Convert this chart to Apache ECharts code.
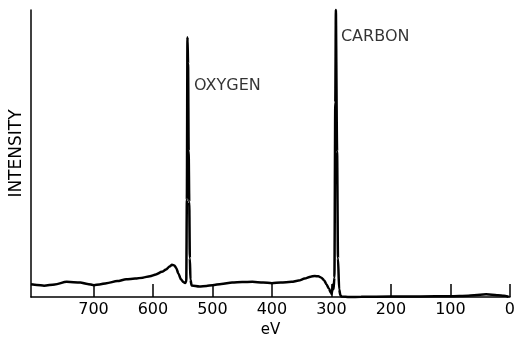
<!DOCTYPE html>
<html>
<head>
<meta charset="utf-8">
<script src="https://cdn.jsdelivr.net/npm/echarts@6/dist/echarts.min.js"></script>
<style>
html,body{margin:0;padding:0;background:#fff;}
#chart{width:518px;height:343px;}
</style>
</head>
<body>
<div id="chart"></div>
<script>
// Binding energy (eV) of sampled spectrum points
const energy = [805,795,783,765,745,722,710,699,690,678,660,645,630,617,605,595,585,578,572,568,564,561,557,553,549,546,544,543,542,541,540,539,538,537,535,
  522,510,500,485,467,450,433,415,400,385,367,355,345,335,328,322,317,312,308.6,304,301,299.5,297.5,296.5,295,293.5,292.5,291.5,290.5,289,287,285,283,
  270,250,200,150,100,70,50,40,30,20,10,5,2];
// Intensity (arbitrary units)
const intensity = [13.3,12.5,11.7,13,15.7,15,13.5,12.3,13,14.3,16.5,18.3,19,20,21.5,23.3,26,28.3,31.5,33.3,32.5,30,24,18.3,15.5,14.5,16,100,267,240,150,98,40,18,12,
  11,11.5,12.3,13.5,15,15.5,15.7,15,14.3,15,15.7,17,19,21,21.7,21.3,20,17,13.3,8.5,4.5,3.3,13,8,20,200,295,295,150,40,8,2,0.5,
  0,0.3,0.5,0.7,1,1.5,2.5,2.8,2.5,2,1.5,1,0];
// Tick values / labels on the energy axis
const tickValues = [700,600,500,400,300,200,100,0];
// Peak annotations: [eV, intensity, text]
const annotations = [[531,217,'OXYGEN'],[284,267,'CARBON']];

const FONT = 'DejaVu Sans';
const chart = echarts.init(document.getElementById('chart'), null, {renderer:'canvas'});
chart.setOption({
  animation:false,
  backgroundColor:'#fff',
  grid:{left:30.5,right:4.5,top:10,bottom:38,containLabel:false},
  xAxis:{
    type:'value', inverse:true, min:0, max:805, interval:100,
    name:'eV', nameLocation:'middle', nameGap:21,
    nameTextStyle:{fontFamily:FONT,fontSize:15,color:'#000'},
    axisLine:{show:true,onZero:false,lineStyle:{color:'#000',width:1.5}},
    axisTick:{show:true,inside:true,length:13,lineStyle:{color:'#000',width:1.5},customValues:tickValues},
    axisLabel:{show:true,margin:5,fontFamily:FONT,fontSize:16,color:'#000',customValues:tickValues},
    splitLine:{show:false}
  },
  yAxis:{
    type:'value', min:0, max:295, position:'left',
    name:'INTENSITY', nameLocation:'middle', nameRotate:90, nameGap:6,
    nameTextStyle:{fontFamily:FONT,fontSize:17,color:'#000'},
    axisLine:{show:true,onZero:false,lineStyle:{color:'#000',width:1.5}},
    axisTick:{show:false}, axisLabel:{show:false}, splitLine:{show:false}
  },
  series:[
    {
      type:'line', data:energy.map((e,i)=>[e,intensity[i]]),
      showSymbol:false, smooth:0.25, smoothMonotone:'x',
      lineStyle:{color:'#000',width:2.5}, clip:false
    },
    {
      type:'scatter', symbolSize:0,
      data:annotations.map(a=>({value:[a[0],a[1]],name:a[2]})),
      label:{show:true,position:'right',distance:0,formatter:p=>p.name,
        fontFamily:FONT,fontSize:16,color:'#000'}
    }
  ]
});
</script>
</body>
</html>
